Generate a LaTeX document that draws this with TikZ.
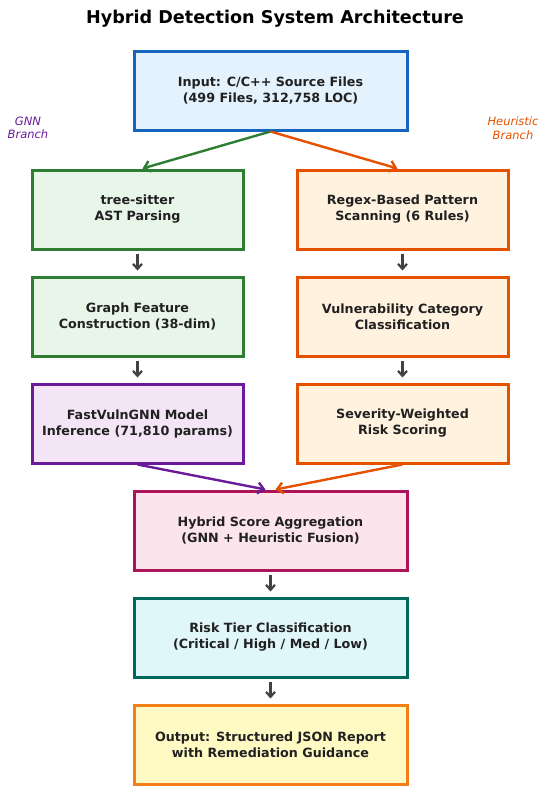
\documentclass[tikz,border=0pt]{standalone}
\usepackage{fontspec}
\setmainfont{DejaVu Sans}
\usetikzlibrary{arrows.meta,positioning,calc}

\definecolor{inblue}{HTML}{1565C0}
\definecolor{inbluef}{HTML}{E3F2FD}
\definecolor{gnngreen}{HTML}{2E7D32}
\definecolor{gnngreenf}{HTML}{E8F5E9}
\definecolor{heurorange}{HTML}{E65100}
\definecolor{heurorangef}{HTML}{FFF3E0}
\definecolor{modpurple}{HTML}{6A1B9A}
\definecolor{modpurplef}{HTML}{F3E5F5}
\definecolor{hybpink}{HTML}{AD1457}
\definecolor{hybpinkf}{HTML}{FCE4EC}
\definecolor{tierteal}{HTML}{00695C}
\definecolor{tiertealf}{HTML}{E0F7FA}
\definecolor{outgold}{HTML}{F57F17}
\definecolor{outgoldf}{HTML}{FFF9C4}
\definecolor{flowgray}{HTML}{424242}
\definecolor{txtdark}{HTML}{212121}

\begin{document}
\begin{tikzpicture}[x=1pt,y=-1pt,
   	blk/.style={rectangle,line width=3pt,align=center,text=txtdark,
   	            font=\fontsize{12.7}{16}\selectfont\bfseries,
   	            minimum height=79pt,inner sep=2pt},
   	wideblk/.style={blk,minimum width=273pt},
   	colblk/.style={blk,minimum width=211pt},
   	flow/.style={-{Straight Barb[length=5pt,width=9pt,line width=2.2pt]},line width=2.6pt,color=flowgray},
   	fork/.style={-{Straight Barb[length=6pt,width=11pt]},line width=2.4pt},
   	side/.style={font=\fontsize{11.5}{13.5}\selectfont\itshape,align=center}]
   	\useasboundingbox (0,0) rectangle (550,795);
   	\node (title) at (275,19) {\fontsize{17.6}{21}\selectfont\bfseries Hybrid Detection System Architecture};
   	% top and bottom column
   	\path   (270.5,90.5) 	node 	(src) [wideblk,draw=inblue,fill=inbluef] {Input: C/C++ Source Files\\(499 Files, 312,758 LOC)}
   	        (270.5,530.5) 	node 	(hyb) [wideblk,draw=hybpink,fill=hybpinkf] {Hybrid Score Aggregation\\(GNN + Heuristic Fusion)}
   	        (270.5,637.5) 	node 	(tier) [wideblk,draw=tierteal,fill=tiertealf] {Risk Tier Classification\\(Critical / High / Med / Low)}
   	        (270.5,744.5) 	node 	(rep) [wideblk,draw=outgold,fill=outgoldf] {Output: Structured JSON Report\\with Remediation Guidance};
   	% GNN branch
   	\path   (137.5,209.5) 	node 	(ast) [colblk,draw=gnngreen,fill=gnngreenf] {tree-sitter\\AST Parsing}
   	        (137.5,316.5) 	node 	(feat) [colblk,draw=gnngreen,fill=gnngreenf] {Graph Feature\\Construction (38-dim)}
   	        (137.5,423.5) 	node 	(gnn) [colblk,draw=modpurple,fill=modpurplef] {FastVulnGNN Model\\Inference (71,810 params)};
   	% heuristic branch
   	\path   (402.5,209.5) 	node 	(rgx) [colblk,draw=heurorange,fill=heurorangef] {Regex-Based Pattern\\Scanning (6 Rules)}
   	        (402.5,316.5) 	node 	(cat) [colblk,draw=heurorange,fill=heurorangef] {Vulnerability Category\\Classification}
   	        (402.5,423.5) 	node 	(sev) [colblk,draw=heurorange,fill=heurorangef] {Severity-Weighted\\Risk Scoring};
   	\node [side,text=modpurple] (gnnlbl) at (28,128) {GNN\\Branch};
   	\node [side,text=heurorange] (heurlbl) at (513,128) {Heuristic\\Branch};
   	\draw [fork,gnngreen] (src.south) -- ($(ast.north)+(5,0)$);
   	\draw [fork,heurorange] (src.south) -- ($(rgx.north)+(-5,0)$);
   	\draw [fork,modpurple] (gnn.south) -- ($(hyb.north)+(-5,0)$);
   	\draw [fork,heurorange] (sev.south) -- ($(hyb.north)+(5,0)$);
   	\draw [flow] ($(ast.south)+(0,3)$) -- ($(feat.north)+(0,-5)$);
   	\draw [flow] ($(feat.south)+(0,3)$) -- ($(gnn.north)+(0,-5)$);
   	\draw [flow] ($(rgx.south)+(0,3)$) -- ($(cat.north)+(0,-5)$);
   	\draw [flow] ($(cat.south)+(0,3)$) -- ($(sev.north)+(0,-5)$);
   	\draw [flow] ($(hyb.south)+(0,3)$) -- ($(tier.north)+(0,-5)$);
   	\draw [flow] ($(tier.south)+(0,3)$) -- ($(rep.north)+(0,-5)$);
\end{tikzpicture}
\end{document}
